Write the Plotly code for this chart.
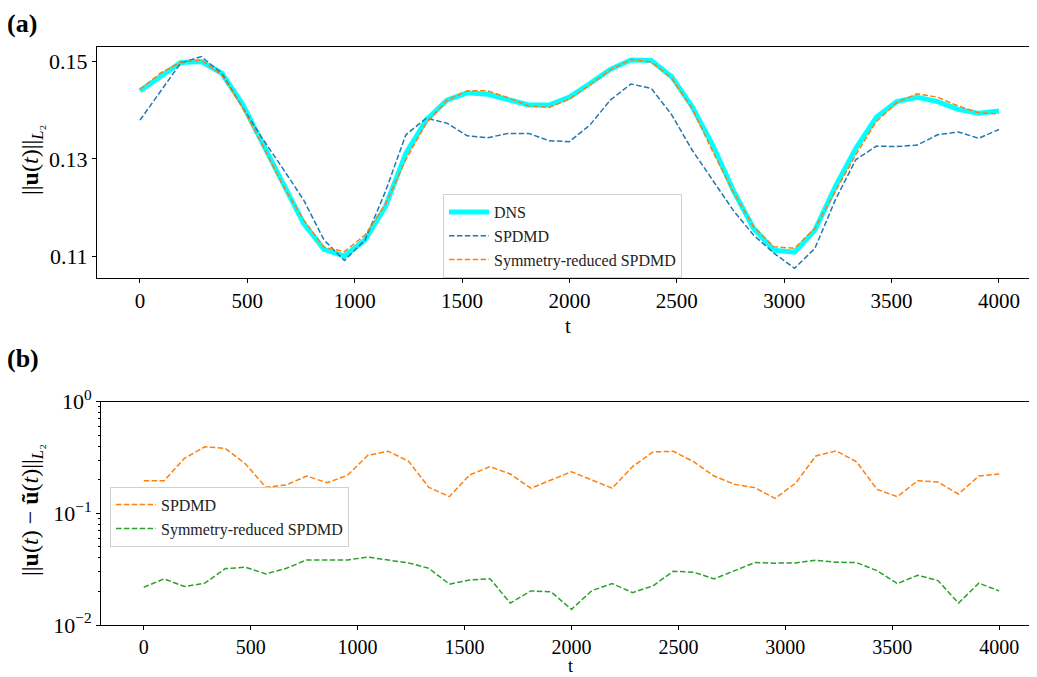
import plotly.graph_objects as go

t = [0, 95, 190, 286, 381, 476, 571, 667, 762, 857, 952, 1048, 1143, 1238, 1333,
     1429, 1524, 1619, 1714, 1810, 1905, 2000, 2095, 2190, 2286, 2381, 2476, 2571,
     2667, 2762, 2857, 2952, 3048, 3143, 3238, 3333, 3429, 3524, 3619, 3714, 3810,
     3905, 4000]

dns = [0.1439, 0.1469, 0.1497, 0.1499, 0.1475, 0.1413, 0.1333, 0.1250, 0.1168, 0.1115,
       0.1101, 0.1134, 0.1202, 0.1311, 0.1379, 0.1420, 0.1435, 0.1432, 0.1420, 0.1410,
       0.1410, 0.1426, 0.1454, 0.1483, 0.1502, 0.1501, 0.1468, 0.1407, 0.1328, 0.1236,
       0.1158, 0.1113, 0.1109, 0.1154, 0.1243, 0.1321, 0.1385, 0.1417, 0.1426, 0.1417,
       0.1401, 0.1393, 0.1398]

spdmd_norm = [0.1379, 0.1438, 0.1496, 0.1509, 0.1475, 0.1406, 0.1341, 0.1279, 0.1216, 0.1134,
              0.1092, 0.1134, 0.1233, 0.1349, 0.1383, 0.1373, 0.1347, 0.1343, 0.1352, 0.1352,
              0.1337, 0.1335, 0.1369, 0.1420, 0.1453, 0.1444, 0.1390, 0.1318, 0.1257, 0.1195,
              0.1144, 0.1107, 0.1076, 0.1117, 0.1216, 0.1298, 0.1326, 0.1325, 0.1328, 0.1349,
              0.1355, 0.1342, 0.1360]

sym_norm = [0.1442, 0.1475, 0.1498, 0.1502, 0.1471, 0.1406, 0.1328, 0.1245, 0.1175, 0.1119,
            0.1110, 0.1144, 0.1207, 0.1298, 0.1373, 0.1419, 0.1439, 0.1439, 0.1425, 0.1408,
            0.1405, 0.1422, 0.1451, 0.1482, 0.1503, 0.1498, 0.1465, 0.1403, 0.1315, 0.1233,
            0.1161, 0.1120, 0.1117, 0.1158, 0.1233, 0.1308, 0.1376, 0.1415, 0.1433, 0.1426,
            0.1408, 0.1394, 0.1392]

err_spdmd = [0.196, 0.196, 0.311, 0.395, 0.382, 0.277, 0.171, 0.180, 0.216, 0.188,
             0.219, 0.331, 0.360, 0.293, 0.171, 0.141, 0.221, 0.262, 0.225, 0.168,
             0.199, 0.236, 0.199, 0.168, 0.262, 0.355, 0.360, 0.290, 0.216, 0.182,
             0.170, 0.136, 0.186, 0.327, 0.362, 0.290, 0.164, 0.141, 0.196, 0.191,
             0.149, 0.216, 0.225]

err_sym = [0.0218, 0.0259, 0.0221, 0.0237, 0.0320, 0.0329, 0.0287, 0.0322, 0.0383, 0.0383,
           0.0383, 0.0405, 0.0380, 0.0360, 0.0322, 0.0232, 0.0253, 0.0260, 0.0157, 0.0202,
           0.0198, 0.0138, 0.0203, 0.0235, 0.0195, 0.0224, 0.0303, 0.0297, 0.0259, 0.0307,
           0.0362, 0.0358, 0.0360, 0.0380, 0.0365, 0.0362, 0.0307, 0.0235, 0.0279, 0.0250,
           0.0157, 0.0237, 0.0202]

x_ticks = [0, 500, 1000, 1500, 2000, 2500, 3000, 3500, 4000]
y_ticks_top = [0.11, 0.13, 0.15]
y_ticks_bot = [1e-2, 1e-1, 1]
y_ticktext_bot = ["10<sup>\u22122</sup>", "10<sup>\u22121</sup>", "10<sup>0</sup>"]

FONT = "Liberation Serif"
BLUE = "#1f77b4"
ORANGE = "#ff7f0e"
GREEN = "#2ca02c"
DASH = "5.5px,2.4px"

# page body has an 8px margin: work in window pixels and shift
OFF = 8
W, H = 1037 - OFF, 677 - OFF


def px(p):
    return (p - OFF) / W


def py(p):
    return 1 - (p - OFF) / H


fig = go.Figure()
fig.add_trace(go.Scatter(x=t, y=dns, mode="lines", name="DNS",
                         line=dict(color="#00ffff", width=5), xaxis="x", yaxis="y", legend="legend"))
fig.add_trace(go.Scatter(x=t, y=spdmd_norm, mode="lines", name="SPDMD",
                         line=dict(color=BLUE, width=1.5, dash=DASH), xaxis="x", yaxis="y", legend="legend"))
fig.add_trace(go.Scatter(x=t, y=sym_norm, mode="lines", name="Symmetry-reduced SPDMD",
                         line=dict(color=ORANGE, width=1.5, dash=DASH), xaxis="x", yaxis="y", legend="legend"))
fig.add_trace(go.Scatter(x=t, y=err_spdmd, mode="lines", name="SPDMD",
                         line=dict(color=ORANGE, width=1.5, dash=DASH), xaxis="x2", yaxis="y2", legend="legend2"))
fig.add_trace(go.Scatter(x=t, y=err_sym, mode="lines", name="Symmetry-reduced SPDMD",
                         line=dict(color=GREEN, width=1.5, dash=DASH), xaxis="x2", yaxis="y2", legend="legend2"))

ytickfont = dict(family=FONT, size=22, color="black")
common_x = dict(range=[-200, 4177], tickvals=x_ticks, ticks="outside", ticklen=4,
                tickcolor="black", showline=True, linecolor="black", linewidth=1,
                mirror=True, showgrid=False, zeroline=False, automargin=False)
common_y = dict(ticks="outside", ticklen=4, tickcolor="black", showline=True,
                linecolor="black", linewidth=1, mirror=False, showgrid=False,
                zeroline=False, tickfont=ytickfont, automargin=False)

fig.update_layout(
    width=W, height=H, autosize=False,
    margin=dict(l=0, r=0, t=0, b=0, pad=0, autoexpand=False),
    paper_bgcolor="white", plot_bgcolor="white",
    font=dict(family=FONT, color="black"),
    xaxis=dict(domain=[px(97), 1], anchor="y",
               tickfont=dict(family=FONT, size=21, color="black"), **common_x),
    yaxis=dict(domain=[py(277.7), py(46.7)], anchor="x",
               range=[0.10568, 0.15293], tickvals=y_ticks_top,
               ticktext=["0.11", "0.13", "0.15"], **common_y),
    xaxis2=dict(domain=[px(101), 1], anchor="y2",
                tickfont=dict(family=FONT, size=20, color="black"), **common_x),
    yaxis2=dict(domain=[py(625), py(401.7)], anchor="x2", type="log",
                range=[-2, 0], tickvals=y_ticks_bot, ticktext=y_ticktext_bot,
                minor=dict(ticks="outside", ticklen=2, tickcolor="black",
                           dtick="D1", showgrid=False),
                **common_y),
    legend=dict(x=px(443), y=py(194), xanchor="left", yanchor="top",
                bgcolor="rgba(255,255,255,0.85)", bordercolor="#d0d0d0", borderwidth=1,
                font=dict(family=FONT, size=16, color="#222"), itemwidth=40,
                tracegroupgap=0),
    legend2=dict(x=px(110), y=py(486.7), xanchor="left", yanchor="top",
                 bgcolor="rgba(255,255,255,0.85)", bordercolor="#d0d0d0", borderwidth=1,
                 font=dict(family=FONT, size=16, color="#222"), itemwidth=40,
                 tracegroupgap=0),
    showlegend=True,
)

annotations = [
    dict(text="<b>(a)</b>", x=px(6), y=1, xref="paper", yref="paper",
         xanchor="left", yanchor="top", showarrow=False, borderpad=0,
         font=dict(family=FONT, size=26, color="black")),
    dict(text="<b>(b)</b>", x=px(6), y=py(343), xref="paper", yref="paper",
         xanchor="left", yanchor="top", showarrow=False, borderpad=0,
         font=dict(family=FONT, size=26, color="black")),
    dict(text="t", x=px(568), y=py(326), xref="paper", yref="paper",
         xanchor="center", yanchor="middle", showarrow=False, borderpad=0,
         font=dict(family=FONT, size=21, color="black")),
    dict(text="t", x=px(570), y=0, xref="paper", yref="paper",
         xanchor="center", yanchor="bottom", showarrow=False, borderpad=0,
         font=dict(family=FONT, size=18, color="black")),
    dict(text="||<b>u</b>(<i>t</i>)||<sub><i>L</i>\u2082</sub>", x=px(32), y=py(160),
         xref="paper", yref="paper", xanchor="center", yanchor="middle",
         textangle=-90, showarrow=False, font=dict(family=FONT, size=24, color="black")),
    dict(text="||<b>u</b>(<i>t</i>) \u2212 <b>\u0169</b>(<i>t</i>)||<sub><i>L</i>\u2082</sub>",
         x=px(32), y=py(510), xref="paper", yref="paper", xanchor="center",
         yanchor="middle", textangle=-90, showarrow=False,
         font=dict(family=FONT, size=24, color="black")),
]
fig.update_layout(annotations=annotations)

fig.write_html("out.html")
